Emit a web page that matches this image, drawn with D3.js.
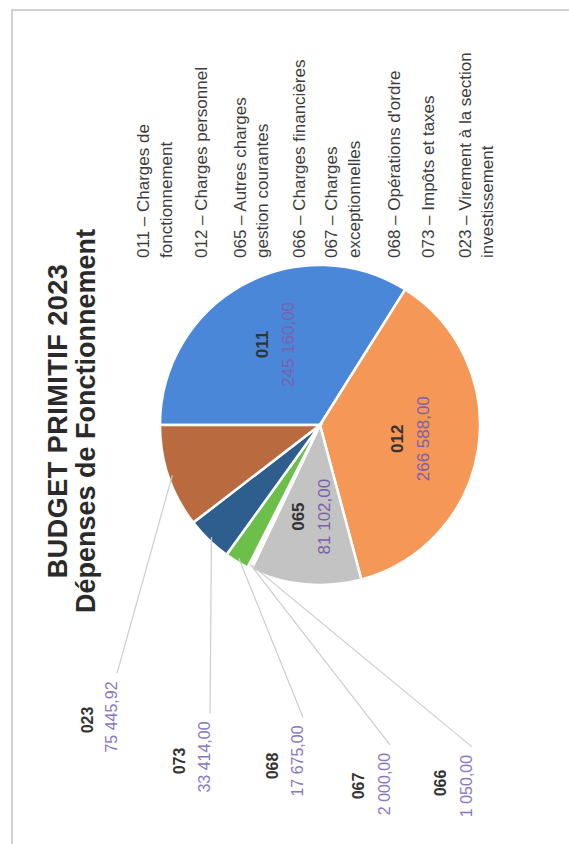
<!DOCTYPE html>
<html>
<head>
<meta charset="utf-8">
<script src="https://cdn.jsdelivr.net/npm/d3@7"></script>
<style>
  html, body { margin: 0; padding: 0; background: #fff; }
  svg { display: block; font-family: "Liberation Sans", Arial, sans-serif; }
</style>
</head>
<body>
<svg id="chart" width="569" height="844"></svg>
<script>
// ---- data ----
const titleLines = ["BUDGET PRIMITIF 2023", "Dépenses de Fonctionnement"];
const codes = ["011", "012", "065", "066", "067", "068", "073", "023"];
const values = [245160.00, 266588.00, 81102.00, 1050.00, 2000.00, 17675.00, 33414.00, 75445.92];
const legendLabels = [
  ["011 – Charges de", "fonctionnement"],
  ["012 – Charges personnel"],
  ["065 – Autres charges", "gestion courantes"],
  ["066 – Charges financières"],
  ["067 – Charges", "exceptionnelles"],
  ["068 – Opérations d'ordre"],
  ["073 – Impôts et taxes"],
  ["023 – Virement à la section", "investissement"]
];

// ---- styles / layout ----
const colors = ["#4a87d8", "#f49757", "#c3c3c3", "#f5c230", "#5f9dd6", "#6cc04a", "#2d5e8d", "#b96a3f"];
const W = 569, H = 844;
const radius = 160;
const pieCenter = [419, 320];           // local (rotated) coords
const insideLabelRadius = 92;
// outside label positions (local coords): [boldX, boldY, valueX, valueY]
const outsideLayout = {
  "066": [61, 440, 58, 466],
  "067": [58, 358, 60, 384],
  "068": [78, 272, 83, 297],
  "073": [83, 179, 87, 204],
  "023": [124, 87, 127, 111]
};
// legend line positions (local y) per entry
const legendLineY = [[143, 166], [201], [240, 262], [299], [331, 354], [394], [428], [465, 487]];

const fr = d3.formatLocale({decimal: ",", thousands: "\u00a0", grouping: [3], currency: ["", " €"]});
const fmt = fr.format(",.2f");

const svg = d3.select("#chart");
svg.append("rect").attr("width", W).attr("height", H).attr("fill", "#fff");
// frame
svg.append("path")
  .attr("d", `M12,${H} L12,10 L${W},10`)
  .attr("fill", "none").attr("stroke", "#d2d2d2").attr("stroke-width", 2);

// rotated group: local x -> screen up, local y -> screen right
const g = svg.append("g").attr("transform", `translate(0,${H}) rotate(-90)`);

// title
g.selectAll("text.title").data(titleLines).join("text")
  .attr("class", "title")
  .attr("x", 423)
  .attr("y", (d, i) => i === 0 ? 67 : 95)
  .attr("text-anchor", "middle")
  .attr("font-size", 27)
  .attr("letter-spacing", (d, i) => i === 0 ? 0.5 : 0)
  .attr("font-weight", "bold")
  .attr("fill", "#2a2a2a")
  .text(d => d);

// pie
const data = codes.map((c, i) => ({code: c, value: values[i], color: colors[i]}));
const pie = d3.pie().sort(null).value(d => d.value);
const arcs = pie(data);
const arc = d3.arc().innerRadius(0).outerRadius(radius);
const edgeArc = d3.arc().innerRadius(radius - 4).outerRadius(radius - 4);
const labelArc = d3.arc().innerRadius(insideLabelRadius).outerRadius(insideLabelRadius);

const pg = g.append("g").attr("transform", `translate(${pieCenter[0]},${pieCenter[1]})`);
pg.selectAll("path.slice").data(arcs).join("path")
  .attr("class", "slice")
  .attr("d", arc)
  .attr("fill", d => d.data.color)
  .attr("stroke", "#fff")
  .attr("stroke-width", 2.5);

// inside labels
const insideCodes = ["011", "012", "065"];
arcs.filter(d => insideCodes.includes(d.data.code)).forEach(d => {
  const [cx, cy] = labelArc.centroid(d);
  pg.append("text")
    .attr("x", cx).attr("y", cy - 13)
    .attr("text-anchor", "middle").attr("dominant-baseline", "central")
    .attr("font-size", 17).attr("font-weight", "bold").attr("fill", "#333")
    .text(d.data.code);
  pg.append("text")
    .attr("x", cx).attr("y", cy + 13)
    .attr("text-anchor", "middle").attr("dominant-baseline", "central")
    .attr("font-size", 17).attr("fill", "#7c5fae")
    .text(fmt(d.data.value));
});

// outside labels with leader lines
const og = g.append("g");
arcs.filter(d => outsideLayout[d.data.code]).forEach(d => {
  const [bx, by, vx, vy] = outsideLayout[d.data.code];
  og.append("text")
    .attr("x", bx).attr("y", by)
    .attr("text-anchor", "middle").attr("dominant-baseline", "central")
    .attr("font-size", 16).attr("font-weight", "bold").attr("fill", "#333")
    .text(d.data.code);
  const vt = og.append("text")
    .attr("x", vx).attr("y", vy)
    .attr("text-anchor", "middle").attr("dominant-baseline", "central")
    .attr("font-size", 16).attr("fill", "#8b76c2")
    .text(fmt(d.data.value));
  const w = vt.node().getComputedTextLength();
  const [ex, ey] = edgeArc.centroid(d);
  og.insert("line", ":first-child")
    .attr("x1", vx + w / 2 + 8).attr("y1", vy + 6)
    .attr("x2", ex + pieCenter[0]).attr("y2", ey + pieCenter[1])
    .attr("stroke", "#cdcdcd").attr("stroke-width", 1.2);
});

// legend (no markers), reading along local x
const lg = g.append("g");
legendLabels.forEach((lines, i) => {
  lines.forEach((t, j) => {
    lg.append("text")
      .attr("x", 586).attr("y", legendLineY[i][j])
      .attr("dominant-baseline", "central")
      .attr("font-size", 17).attr("fill", "#3c3c3c")
      .text(t);
  });
});
</script>
</body>
</html>
